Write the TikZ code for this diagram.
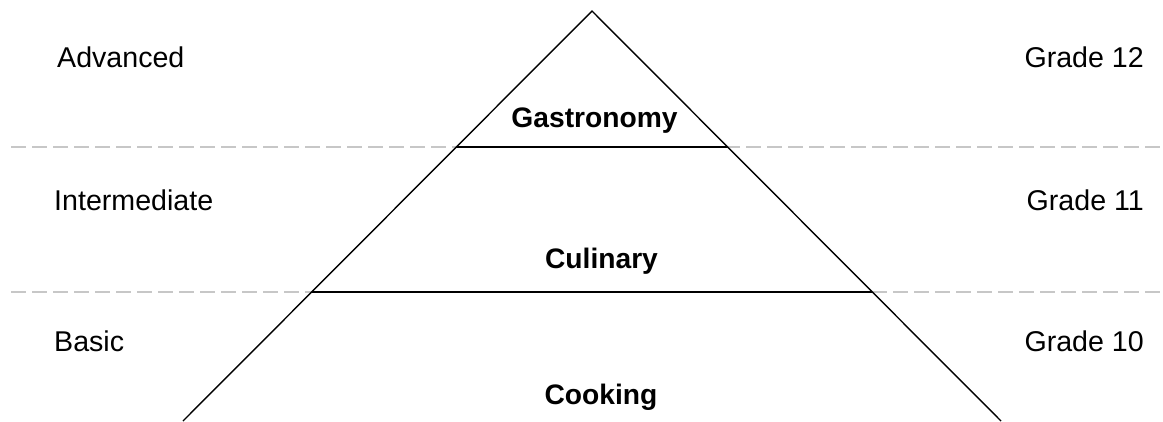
\documentclass[tikz,border=0pt]{standalone}
\usepackage{fontspec}
\setmainfont{Liberation Sans}
\usetikzlibrary{calc}
\begin{document}
\begin{tikzpicture}[x=1pt,y=-1pt,
  pyr/.style={draw=black,line width=1.4pt},
  sep/.style={draw=black!22,line width=1.6pt,dash pattern=on 15pt off 6pt},
  lvl/.style={inner sep=0pt,font=\fontsize{28.6}{34}\selectfont},
  grd/.style={inner sep=0pt,anchor=base east,font=\fontsize{28.6}{34}\selectfont},
  lbl/.style={inner sep=0pt,anchor=base,font=\fontsize{28.2}{34}\selectfont\bfseries}]
\useasboundingbox (0,0) rectangle (1163,421);
\coordinate (A) at (592,11);
\coordinate (BL) at (183,421);
\coordinate (BR) at (1001,421);
\coordinate (L1) at ($(A)!0.3317!(BL)$);
\coordinate (R1) at ($(A)!0.3317!(BR)$);
\coordinate (L2) at ($(A)!0.6854!(BL)$);
\coordinate (R2) at ($(A)!0.6854!(BR)$);
\coordinate (D1a) at (11,147);
\coordinate (D1b) at (1163,147);
\coordinate (D2a) at (11,292);
\coordinate (D2b) at (1163,292);
\draw[sep] (D1a) -- (D1b);
\draw[sep] (D2a) -- (D2b);
\draw[pyr] (BL) -- (A) -- (BR);
\draw[pyr] (L1) -- (R1);
\draw[pyr] (L2) -- (R2);
\node[lvl,anchor=base west] (adv) at (57,67) {Advanced};
\node[lvl,anchor=base west] (int) at (54,210) {Intermediate};
\node[lvl,anchor=base west] (bas) at (54,351) {Basic};
\node[grd] (g12) at (1144,67) {Grade 12};
\node[grd] (g11) at (1144,210) {Grade 11};
\node[grd] (g10) at (1144,351) {Grade 10};
\node[lbl] (gas) at (594.5,127) {Gastronomy};
\node[lbl] (cul) at (601.5,268) {Culinary};
\node[lbl] (coo) at (601,404) {Cooking};
\end{tikzpicture}
\end{document}
